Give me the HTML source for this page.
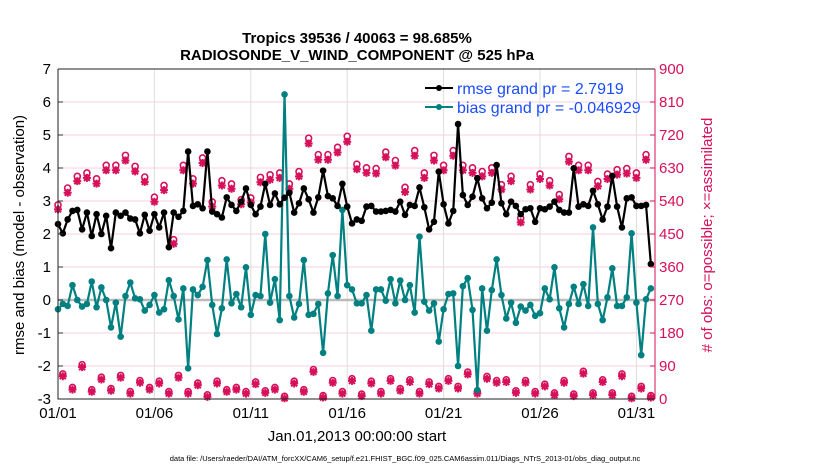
<!DOCTYPE html>
<html><head><meta charset="utf-8"><style>
body{margin:0;background:#fff;font-family:"Liberation Sans",sans-serif}
svg text{font-family:"Liberation Sans",sans-serif}
</style></head><body>
<svg id="c" width="830" height="470" viewBox="0 0 830 470" xmlns="http://www.w3.org/2000/svg">
<rect width="830" height="470" fill="#fff"/>
<g id="grid"></g><g id="marks"></g><g id="axes"></g>
<text x="357" y="43" text-anchor="middle" font-size="15" font-weight="bold">Tropics 39536 / 40063 = 98.685%</text>
<text x="357" y="60" text-anchor="middle" font-size="15" font-weight="bold">RADIOSONDE_V_WIND_COMPONENT @ 525 hPa</text>
<text transform="translate(24,235) rotate(-90)" text-anchor="middle" font-size="15">rmse and bias (model - observation)</text>
<text transform="translate(712,235) rotate(-90)" text-anchor="middle" font-size="15" fill="#d6105a"># of obs: o=possible; ×=assimilated</text>
<text x="357" y="441" text-anchor="middle" font-size="15">Jan.01,2013 00:00:00 start</text>
<text x="405" y="461" text-anchor="middle" font-size="7.5">data file: /Users/raeder/DAI/ATM_forcXX/CAM6_setup/f.e21.FHIST_BGC.f09_025.CAM6assim.011/Diags_NTrS_2013-01/obs_diag_output.nc</text>
<g>
<line x1="425" y1="88" x2="453" y2="88" stroke="#000" stroke-width="2"/><circle cx="439" cy="88" r="3" fill="#000"/>
<text x="457" y="94" font-size="16" fill="#1a4cff">rmse grand pr = 2.7919</text>
<line x1="425" y1="107" x2="453" y2="107" stroke="#008080" stroke-width="2"/><circle cx="439" cy="107" r="3" fill="#008080"/>
<text x="457" y="113" font-size="16" fill="#1a4cff">bias grand pr = -0.046929</text>
</g>
</svg>
<script>
const rmse=[2.3,2.02,2.44,2.7,2.73,2.14,2.65,1.94,2.6,2.0,2.55,1.57,2.65,2.55,2.65,2.47,2.44,2.02,2.58,2.1,2.6,2.2,2.65,1.6,2.65,2.52,2.7,4.5,2.85,2.9,2.78,
4.5,2.68,2.6,2.5,3.11,2.88,2.7,2.98,3.38,2.88,2.6,2.83,3.52,2.88,3.23,2.9,3.1,3.25,2.65,2.93,3.38,3.05,2.65,3.11,3.92,3.15,3.08,2.85,3.52,
2.83,2.32,2.44,2.4,2.83,2.85,2.68,2.68,2.7,2.73,2.68,2.98,2.58,2.88,2.85,3.41,2.81,2.14,2.37,3.89,2.9,2.32,2.7,5.33,3.18,2.88,3.13,3.69,3.08,2.78,2.95,
4.09,2.93,2.6,2.98,2.85,2.6,2.75,2.78,2.37,2.78,2.75,2.83,2.98,2.73,2.65,2.65,3.99,2.83,2.9,2.85,3.31,2.9,2.44,2.83,3.76,2.83,2.2,3.08,3.11,
2.85,2.85,2.88,1.09];
const bias=[-0.28,-0.12,-0.18,0.45,0,-0.2,-0.12,0.56,-0.22,0.38,0,-0.83,-0.08,-1.11,0.12,0.53,0.05,0.02,-0.32,-0.15,0.15,-0.38,-0.28,0.6,0.12,-0.59,0.35,-2.07,0.32,0.15,0.4,
1.21,-0.15,-1.03,-0.25,1.23,-0.1,0.18,-0.22,0.99,-0.45,0.15,0.12,2.0,-0.08,0.63,-0.61,6.23,0.12,-0.53,-0.12,1.21,-0.45,-0.42,-0.12,-1.6,0.2,1.36,0.12,2.73,
0.45,0.32,-0.1,-0.1,0.15,-0.93,0.32,0.32,-0.02,0.63,-0.1,0.59,0,0.45,-0.38,1.92,-0.05,-0.32,-0.1,-1.26,-0.28,0.18,0.2,-2.0,0.42,0.66,-0.3,-2.73,0.35,-0.93,
0.3,1.23,0.15,-0.56,-0.08,-0.69,-0.2,-0.32,-0.15,-0.48,-0.4,0.35,0.02,0.99,-0.25,-0.83,-0.12,0.4,-0.12,0.48,-0.18,2.2,-0.12,-0.61,0.08,0.96,-0.18,-0.18,0.08,2.02,
-0.08,-1.67,0.02,0.35];
// obs counts at 00Z/12Z (even index) and 06Z/18Z (odd index)
const obsEven=[524,570,602,611,595,632,632,659,629,600,545,577,429,632,595,652,
532,590,581,538,543,599,606,611,581,615,706,661,661,681,711,
635,625,623,668,645,572,672,611,659,632,672,632,625,615,625,
579,602,488,579,608,590,552,656,632,632,588,608,620,623,611,661];
const obsOdd=[63,26,88,20,54,23,59,15,45,26,43,15,59,15,38,6,
43,20,26,15,41,17,26,2,43,20,75,4,45,15,
50,8,43,15,50,23,47,15,41,29,50,29,68,15,56,
45,47,17,45,15,35,11,45,8,70,11,47,11,63,2,29,4];
const assimRatio=0.987;
const yTicks=[-3,-2,-1,0,1,2,3,4,5,6,7];
const rTicks=[0,90,180,270,360,450,540,630,720,810,900];
const xTickLabels=["01/01","01/06","01/11","01/16","01/21","01/26","01/31"];
const xTickDays=[0,5,10,15,20,25,30];

const L=58,R=655,T=69,B=399;
const px=i=>L+i*4.82;
const pxDay=d=>L+d*19.28;
const py=v=>300-v*33;
const pr=v=>B-v*(B-T)/900;
const NS="http://www.w3.org/2000/svg";
function mk(parent,tag,attrs){const e=document.createElementNS(NS,tag);for(const k in attrs)e.setAttribute(k,attrs[k]);parent.appendChild(e);return e;}
const grid=document.getElementById('grid'),marks=document.getElementById('marks'),axes=document.getElementById('axes');

yTicks.forEach(v=>{
  const g=mk(grid,'line',{x1:L,x2:R,y1:py(v),y2:py(v),stroke:'#f6cfe0','stroke-width':1});
  
  
  const t=mk(axes,'text',{x:L-7,y:py(v)+5,'text-anchor':'end','font-size':15});
  t.textContent=v;
  
  
  mk(axes,'line',{x1:L,x2:L+5,y1:py(v),y2:py(v),stroke:'#333'});
});
xTickDays.forEach((d,k)=>{
  const g=mk(grid,'line',{x1:pxDay(d),x2:pxDay(d),y1:T,y2:B,stroke:'#ddd','stroke-width':1});
  
  
  const t=mk(axes,'text',{x:pxDay(d),y:418,'text-anchor':'middle','font-size':15});
  t.textContent=xTickLabels[k];
  
  
});
rTicks.forEach(v=>{
  const t=mk(axes,'text',{x:R+4,y:pr(v)+5,'font-size':15,fill:'#d6105a'});
  t.textContent=v;
  
  
  mk(axes,'line',{x1:R-5,x2:R,y1:pr(v),y2:pr(v),stroke:'#d6105a'});
});
const zl=mk(grid,'line',{x1:L,x2:R,y1:py(0),y2:py(0),stroke:'#bbb','stroke-width':2.5});



// obs markers
function obsMarker(i,v){
  const g=mk(marks,'g',{});
  
  
  const x=px(i),yp=pr(v),ya=pr(v*assimRatio);
  mk(g,'circle',{cx:x,cy:yp-2,r:3,fill:'#fff',stroke:'#d6105a','stroke-width':1.6});
  const s=4;
  mk(g,'path',{d:`M${x-s} ${ya}H${x+s}M${x} ${ya-s}V${ya+s}M${x-3} ${ya-3}L${x+3} ${ya+3}M${x-3} ${ya+3}L${x+3} ${ya-3}`,stroke:'#d6105a','stroke-width':2});
}
obsEven.forEach((v,k)=>obsMarker(2*k,v));
obsOdd.forEach((v,k)=>obsMarker(2*k+1,v));

function series(arr,color,name){
  const p=mk(marks,'polyline',{points:arr.map((v,i)=>px(i)+','+py(v)).join(' '),fill:'none',stroke:color,'stroke-width':2.2,'stroke-linejoin':'round'});
  
  
  arr.forEach((v,i)=>{
    const c=mk(marks,'circle',{cx:px(i),cy:py(v),r:3.3,fill:color});
    
    
  });
}
series(bias,'#008080','bias');
series(rmse,'#000','rmse');

const fr=mk(axes,'path',{d:`M${L} ${T}H${R}M${L} ${T}V${B}H${R}`,fill:'none',stroke:'#222','stroke-width':1});


const ra=mk(axes,'line',{x1:R,x2:R,y1:T,y2:B,stroke:'#d6105a','stroke-width':1});


</script>
</body></html>
